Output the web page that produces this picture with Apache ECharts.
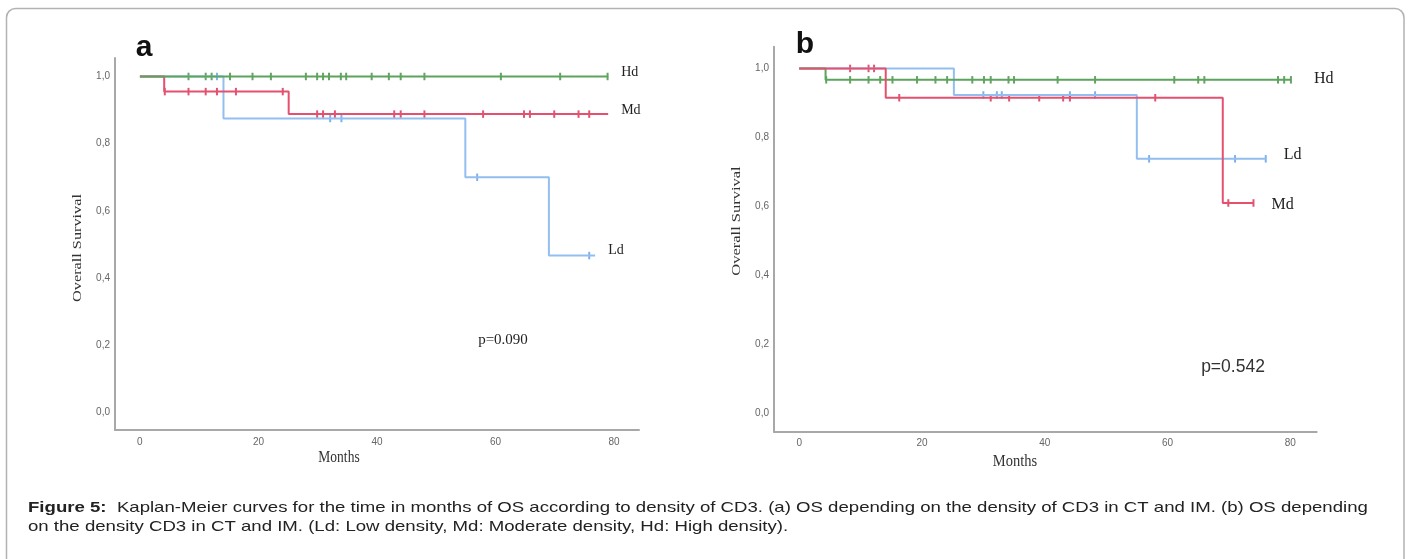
<!DOCTYPE html>
<html>
<head>
<meta charset="utf-8">
<script src="https://cdn.jsdelivr.net/npm/echarts@6/dist/echarts.min.js"></script>
<style>
html,body{margin:0;padding:0;background:#fff;}
#chart{width:1413px;height:559px;}
</style>
</head>
<body>
<div id="chart"></div>
<script>
// ---------- Data ----------
const yTicks = [0, 0.2, 0.4, 0.6, 0.8, 1.0];
const xTicks = [0, 20, 40, 60, 80];

// Panel a – Kaplan-Meier step curves (time in months, survival)
const aHdTimes = [0, 79];
const aHdSurv  = [1.0, 1.0];
const aMdTimes = [0, 4.1, 25.1, 79];
const aMdSurv  = [1.0, 0.955, 0.888, 0.888];
const aLdTimes = [0, 14.1, 54.9, 69.0, 76.8];
const aLdSurv  = [1.0, 0.875, 0.70, 0.467, 0.467];
// Panel a – censored observations
const aHdCensor = [8.2, 11.1, 12.1, 15.2, 19.0, 22.1, 28.0, 29.9, 30.9, 31.9, 33.9, 34.8, 39.1, 42.0, 44.0, 48.0, 60.9, 70.9, 78.9];
const aMdCensor = [4.2, 8.2, 11.1, 13.0, 16.2, 24.1, 29.9, 30.9, 32.9, 42.9, 44.0, 48.0, 57.9, 64.8, 65.8, 69.9, 74.0, 75.8];
const aLdCensor = [13.0, 32.1, 34.0, 56.9, 75.8];

// Panel b
const bHdTimes = [0, 4.3, 80.1];
const bHdSurv  = [1.0, 0.967, 0.967];
const bMdTimes = [0, 14.1, 69.0, 74.0];
const bMdSurv  = [1.0, 0.915, 0.61, 0.61];
const bLdTimes = [0, 25.2, 55.0, 76.0];
const bLdSurv  = [1.0, 0.923, 0.738, 0.738];
const bHdCensor = [4.4, 8.3, 11.3, 13.2, 15.2, 19.2, 22.2, 24.1, 28.2, 30.1, 31.2, 34.1, 35.0, 42.1, 48.2, 61.1, 65.0, 66.0, 78.0, 79.0, 80.1];
const bMdCensor = [8.3, 11.3, 12.2, 16.3, 31.2, 34.2, 39.1, 43.0, 44.1, 58.0, 69.9, 74.0];
const bLdCensor = [30.0, 32.2, 33.0, 44.1, 48.2, 57.0, 71.0, 76.0];

const groupNames = ['Hd', 'Md', 'Ld'];
const pValueA = 'p=0.090';
const pValueB = 'p=0.542';
const captionLine1 = '{b|Figure 5:}  Kaplan-Meier curves for the time in months of OS according to density of CD3. (a) OS depending on the density of CD3 in CT and IM. (b) OS depending';
const captionLine2 = 'on the density CD3 in CT and IM. (Ld: Low density, Md: Moderate density, Hd: High density).';

// ---------- Helpers ----------
function pairs(t, s) { return t.map((x, i) => [x, s[i]]); }
function survAt(t, s, x) { let v = s[0]; for (let i = 0; i < t.length; i++) { if (t[i] <= x) v = s[i]; } return v; }
function censorPts(c, t, s) { return c.map(x => [x, survAt(t, s, x)]); }

const COL = {
  Hd: { line: '#5ca35c', mark: '#3c8c3c' },
  Md: { line: '#e6506f', mark: '#d62a50' },
  Ld: { line: '#92bff0', mark: '#5c9de6' }
};
const SERIF = '"Liberation Serif","DejaVu Serif",serif';
const SANS = '"Liberation Sans",Arial,sans-serif';

function lineSeries(name, idx, t, s, labelSize, dist, off) {
  return {
    type: 'line', name: name, xAxisIndex: idx, yAxisIndex: idx,
    data: pairs(t, s), step: 'end', showSymbol: false, symbol: 'none',
    lineStyle: { color: COL[name].line, width: 2 },
    itemStyle: { color: COL[name].line },
    endLabel: { show: true, formatter: name, color: '#222', fontFamily: SERIF, fontSize: labelSize, distance: dist, offset: off },
    silent: true, animation: false
  };
}
function censorSeries(name, idx, c, t, s) {
  return {
    type: 'scatter', name: name + ' censored', xAxisIndex: idx, yAxisIndex: idx,
    data: censorPts(c, t, s), symbol: 'rect', symbolSize: [2, 7.5],
    itemStyle: { color: COL[name].mark }, silent: true, animation: false
  };
}
function xAx(idx) {
  return {
    type: 'value', gridIndex: idx, min: -4.2, max: 84.2,
    axisLine: { show: true, onZero: false, lineStyle: { color: '#a8a8a8', width: 2 } },
    axisTick: { show: false }, splitLine: { show: false },
    axisLabel: { customValues: xTicks, color: '#666', fontSize: 10, fontFamily: SANS, margin: 7 }
  };
}
function yAx(idx, min, max) {
  return {
    type: 'value', gridIndex: idx, min: min, max: max,
    axisLine: { show: true, onZero: false, lineStyle: { color: '#a8a8a8', width: 2 } },
    axisTick: { show: false }, splitLine: { show: false },
    axisLabel: { customValues: yTicks, color: '#666', fontSize: 10, fontFamily: SANS, margin: 5,
      formatter: v => v.toFixed(1).replace('.', ',') }
  };
}
function txt(text, x, y, o) {
  return Object.assign({ type: 'text', x: x, y: y, silent: true,
    style: Object.assign({ text: text, fill: '#222', align: 'center', verticalAlign: 'middle' }, o.style || {}) },
    o.extra || {});
}

const chart = echarts.init(document.getElementById('chart'), null, { renderer: 'canvas' });
chart.setOption({
  animation: false,
  backgroundColor: '#fff',
  grid: [
    { left: 115, top: 58, width: 524, height: 372 },
    { left: 774, top: 46.7, width: 542.7, height: 385 }
  ],
  xAxis: [xAx(0), Object.assign(xAx(1), { min: -4.1, max: 84.3 })],
  yAxis: [yAx(0, -0.052, 1.055), yAx(1, -0.053, 1.063)],
  series: [
    lineSeries('Ld', 0, aLdTimes, aLdSurv, 14, 13, [0, -5]),
    lineSeries('Md', 0, aMdTimes, aMdSurv, 14, 13, [0, -4]),
    lineSeries('Hd', 0, aHdTimes, aHdSurv, 14, 13, [0, -4]),
    censorSeries('Ld', 0, aLdCensor, aLdTimes, aLdSurv),
    censorSeries('Md', 0, aMdCensor, aMdTimes, aMdSurv),
    censorSeries('Hd', 0, aHdCensor, aHdTimes, aHdSurv),
    lineSeries('Ld', 1, bLdTimes, bLdSurv, 16, 18, [0, -4]),
    lineSeries('Hd', 1, bHdTimes, bHdSurv, 16, 23, [0, -1]),
    lineSeries('Md', 1, bMdTimes, bMdSurv, 16, 18, [0, 2]),
    censorSeries('Ld', 1, bLdCensor, bLdTimes, bLdSurv),
    censorSeries('Hd', 1, bHdCensor, bHdTimes, bHdSurv),
    censorSeries('Md', 1, bMdCensor, bMdTimes, bMdSurv)
  ],
  graphic: [
    { type: 'rect', silent: true, shape: { x: 6.5, y: 8.5, width: 1397.5, height: 620, r: 9 },
      style: { fill: 'none', stroke: '#b2b2b2', lineWidth: 1.5 } },
    txt('a', 144, 48, { style: { font: 'bold 30px ' + SANS, fill: '#111' } }),
    txt('b', 805, 45, { style: { font: 'bold 30px ' + SANS, fill: '#111' } }),
    txt('Overall Survival', 78, 248, { style: { font: '13px ' + SERIF, fill: '#333' }, extra: { rotation: Math.PI / 2, scaleX: 1.25 } }),
    txt('Overall Survival', 736, 221, { style: { font: '13.5px ' + SERIF, fill: '#333' }, extra: { rotation: Math.PI / 2, scaleX: 1.22 } }),
    txt('Months', 339, 458, { style: { font: '13.5px ' + SERIF, fill: '#333' }, extra: { scaleY: 1.2 } }),
    txt('Months', 1015, 461, { style: { font: '14.5px ' + SERIF, fill: '#333' }, extra: { scaleY: 1.2 } }),
    txt(pValueA, 503, 340, { style: { font: '15px ' + SERIF, fill: '#222' } }),
    txt(pValueB, 1233, 367, { style: { font: '17.5px ' + SANS, fill: '#333' } }),
    { type: 'text', x: 28, y: 508, silent: true, scaleX: 1.24,
      style: { text: captionLine1, font: '15px ' + SANS, fill: '#222', align: 'left', verticalAlign: 'middle',
        rich: { b: { fontWeight: 'bold', fontSize: 15, fontFamily: SANS, fill: '#222' } } } },
    { type: 'text', x: 28, y: 527, silent: true, scaleX: 1.24,
      style: { text: captionLine2, font: '15px ' + SANS, fill: '#222', align: 'left', verticalAlign: 'middle' } }
  ]
});
</script>
</body>
</html>
